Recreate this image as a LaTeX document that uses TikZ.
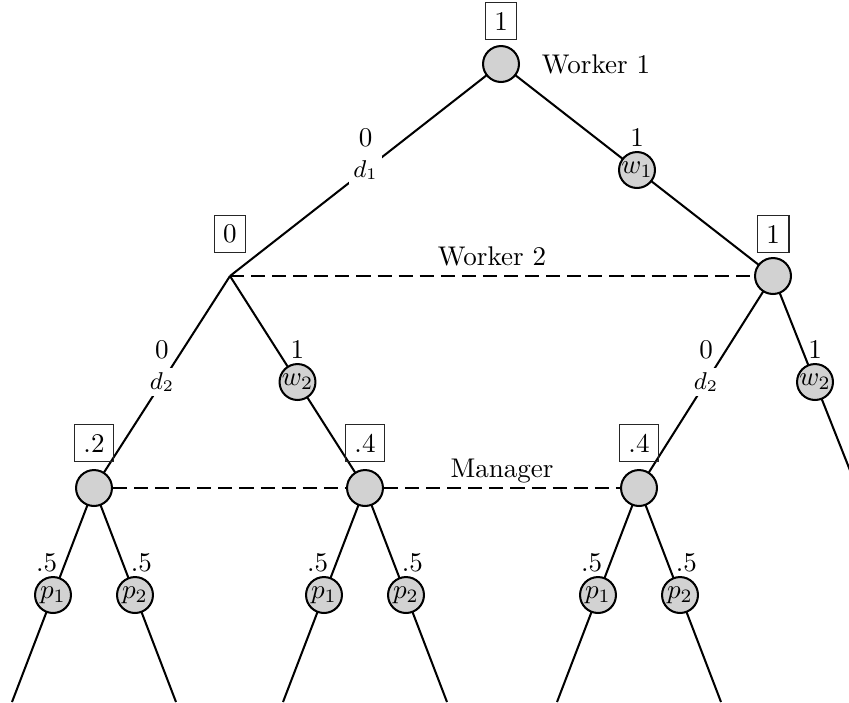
\documentclass[tikz,border=0pt]{standalone}
\usepackage{amsmath}
\usepackage{amssymb}
\usetikzlibrary{backgrounds}

\begin{document}
\begin{tikzpicture}[x=0.37pt, y=-0.37pt, line width=0.75pt,
    decision/.style={circle, draw, fill=gray!35, minimum size=13.3pt, inner sep=0pt},
    payoff/.style={draw=black!85, thin, inner sep=3.4pt},
    choice/.style={fill=white, inner sep=1.5pt, font=\small},
    branch/.style={line width=0.75pt},
    info/.style={dash pattern=on 5.2pt off 2.6pt},
    player/.style={text depth=0pt}]
    \useasboundingbox (0, 0) rectangle (849, 702);
    \clip (0, 0) rectangle (849, 702);

    % worker 1
    \node[decision] (root) at (501, 64) {};
    \node[payoff] (v1) at (501, 21) {1};
    \node[player] (lab1) at (596, 64) {Worker 1};

    % worker 2
    \coordinate (A) at (230, 276);
    \node[decision] (B) at (773, 276) {};
    \node[payoff] (v2) at (230, 234) {0};
    \node[payoff] (v3) at (773, 234) {1};

    % manager
    \node[decision] (C1) at (94, 488) {};
    \node[decision] (C2) at (365, 488) {};
    \node[decision] (C3) at (639, 488) {};
    \coordinate (D) at (857, 488);
    \node[payoff] (v4) at (94, 443) {.2};
    \node[payoff] (v5) at (365, 443) {.4};
    \node[payoff] (v6) at (639, 443) {.4};

    \coordinate (E1) at (12, 702);
    \coordinate (E2) at (176, 702);
    \coordinate (E3) at (283, 702);
    \coordinate (E4) at (447, 702);
    \coordinate (E5) at (557, 702);
    \coordinate (E6) at (721, 702);

    % information sets
    \draw[info] (A) -- node[above, player] {Worker 2} (B);
    \draw[info] (C1) -- (C2) -- node[above, player] {Manager} (C3);

    \begin{pgfonlayer}{background}
    \draw[branch] (root.center) -- node[choice] {$d_1$} node[yshift=12pt] {0} (A);
    \draw[branch] (root.center) -- node[decision] {$w_1$} node[yshift=12pt] {1} (B.center);
    \draw[branch] (A) -- node[choice] {$d_2$} node[yshift=12pt] {0} (C1.center);
    \draw[branch] (A) -- node[decision] {$w_2$} node[yshift=12pt] {1} (C2.center);
    \draw[branch] (B.center) -- node[choice] {$d_2$} node[yshift=12pt] {0} (C3.center);
    \draw[branch] (B.center) -- node[decision] {$w_2$} node[yshift=12pt] {1} (D);

    \foreach \c/\l/\r in {C1/E1/E2, C2/E3/E4, C3/E5/E6} {
        \draw[branch] (\c.center) -- node[decision] {$p_1$} node[xshift=-2.4pt, yshift=12pt] {.5} (\l);
        \draw[branch] (\c.center) -- node[decision] {$p_2$} node[xshift=2.4pt, yshift=12pt] {.5} (\r);
    }
    \end{pgfonlayer}
\end{tikzpicture}
\end{document}
